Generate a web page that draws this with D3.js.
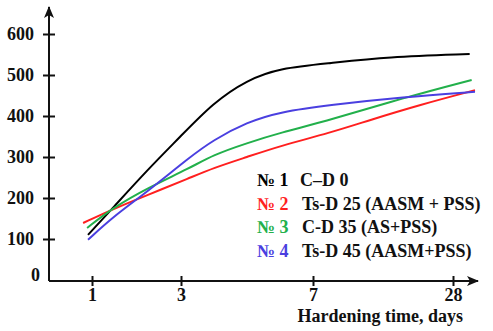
<!DOCTYPE html>
<html>
<head>
<meta charset="utf-8">
<script src="https://cdn.jsdelivr.net/npm/d3@7"></script>
<style>
  body { margin: 0; background: #fff; }
</style>
</head>
<body>
<svg></svg>
<script>
var w = 493;
var h = 331;
var serif = "'Liberation Serif', 'DejaVu Serif', 'Times New Roman', serif";

var svg = d3.select("svg")
            .attr("width", w)
            .attr("height", h)
            .style("font-family", serif)
            .style("font-weight", "bold");

// data (day, strength)
var yTicks = [0, 100, 200, 300, 400, 500, 600];
var xTicks = [1, 3, 7, 28];

var daysBlack = [0.91, 1.47, 2.24, 2.98, 3.97, 5.0, 6.0, 9.55, 18.1, 30.5];
var valsBlack = [110, 176, 268, 349, 432, 488, 517, 529, 544, 551];

var daysRed = [0.8, 1.47, 2.24, 3.27, 3.97, 5.0, 6.0, 9.55, 15.5, 23.0, 31.3];
var valsRed = [139, 173, 207, 249, 273, 300, 327, 359, 390, 427, 463];

var daysGreen = [0.89, 1.47, 2.24, 3.27, 3.97, 5.0, 6.0, 9.55, 20.5, 30.8];
var valsGreen = [127, 176, 224, 273, 305, 334, 359, 390, 444, 488];

var daysBlue = [0.91, 1.47, 2.24, 3.27, 3.97, 5.0, 6.0, 9.55, 20.5, 31.3];
var valsBlue = [98, 154, 215, 300, 341, 385, 410, 427, 446, 459];

var seriesNames = ["№ 1", "№ 2", "№ 3", "№ 4"];
var seriesLabels = ["C–D 0", "Ts-D 25 (AASM + PSS)", "C-D 35 (AS+PSS)", "Ts-D 45 (AASM+PSS)"];
var seriesColors = ["#000000", "#ff1f1f", "#22b04b", "#4a3fe0"];

var series = [
  { days: daysBlack, vals: valsBlack },
  { days: daysRed, vals: valsRed },
  { days: daysGreen, vals: valsGreen },
  { days: daysBlue, vals: valsBlue }
];

// x axis is not linear in days: each tick gets its own spot
var xScale = d3.scaleLinear()
               .domain([1, 3, 7, 28])
               .range([92, 181, 313, 453]);

var yScale = d3.scaleLinear()
               .domain([0, 600])
               .range([280, 34]);

var x0 = 49, y0 = 281;

// arrow heads
var defs = svg.append("defs");
defs.append("marker")
    .attr("id", "arrow")
    .attr("viewBox", "0 0 12 10")
    .attr("refX", 11)
    .attr("refY", 5)
    .attr("markerWidth", 12)
    .attr("markerHeight", 10)
    .attr("markerUnits", "userSpaceOnUse")
    .attr("orient", "auto")
  .append("path")
    .attr("d", "M0,0 L12,5 L0,10 L3,5 Z")
    .attr("fill", "#111");

// y axis
var yAxis = d3.axisLeft(yScale)
              .tickValues(yTicks.slice(1))
              .tickSizeOuter(0)
              .tickSizeInner(6)
              .tickPadding(9);
var gy = svg.append("g")
    .attr("transform", "translate(" + x0 + ",0)")
    .call(yAxis)
    .attr("font-family", null)
    .attr("font-size", 18);
gy.select(".domain").remove();
gy.selectAll(".tick line").attr("x1", 6).attr("x2", -6).attr("stroke", "#111").attr("stroke-width", 2);
gy.selectAll(".tick text").attr("fill", "#111");

// the "0" label sits a bit above the x axis
svg.append("text")
    .attr("x", 40)
    .attr("y", yScale(0) - 5)
    .attr("dy", "0.32em")
    .attr("text-anchor", "end")
    .attr("font-size", 18)
    .attr("fill", "#111")
    .text(yTicks[0]);

svg.append("line")
    .attr("x1", x0).attr("y1", y0)
    .attr("x2", x0).attr("y2", 7)
    .attr("stroke", "#111")
    .attr("stroke-width", 2)
    .attr("marker-end", "url(#arrow)");

// x axis
var xAxis = d3.axisBottom(xScale)
              .tickValues(xTicks)
              .tickFormat(d3.format("d"))
              .tickSizeOuter(0)
              .tickSizeInner(5)
              .tickPadding(2);
var gx = svg.append("g")
    .attr("transform", "translate(0," + y0 + ")")
    .call(xAxis)
    .attr("font-family", null)
    .attr("font-size", 18);
gx.select(".domain").remove();
gx.selectAll(".tick line").attr("y1", -5).attr("y2", 5).attr("stroke", "#111").attr("stroke-width", 2);
gx.selectAll(".tick text").attr("fill", "#111");

svg.append("line")
    .attr("x1", x0).attr("y1", y0)
    .attr("x2", 478).attr("y2", y0)
    .attr("stroke", "#111")
    .attr("stroke-width", 2)
    .attr("marker-end", "url(#arrow)");

svg.append("text")
    .attr("x", 463)
    .attr("y", 322)
    .attr("text-anchor", "end")
    .attr("font-size", 18)
    .attr("fill", "#111")
    .text("Hardening time, days");

// curves, smoothed through the read points
var line = d3.line()
    .x(function(d) { return xScale(d[0]); })
    .y(function(d) { return yScale(d[1]); })
    .curve(d3.curveBasis);

svg.selectAll(".curve")
  .data(series)
  .join("path")
    .attr("class", "curve")
    .attr("fill", "none")
    .attr("stroke", function(d, i) { return seriesColors[i]; })
    .attr("stroke-width", 2)
    .attr("d", function(d) {
      return line(d.days.map(function(day, k) { return [day, d.vals[k]]; }));
    });

// legend
var legend = svg.append("g").attr("font-size", 18);
legend.selectAll(".num")
  .data(seriesNames)
  .join("text")
    .attr("class", "num")
    .attr("x", 257)
    .attr("y", function(d, i) { return 186 + i * 23.5; })
    .attr("fill", function(d, i) { return seriesColors[i]; })
    .text(function(d) { return d; });

legend.selectAll(".lab")
  .data(seriesLabels)
  .join("text")
    .attr("class", "lab")
    .attr("x", function(d, i) { return i == 0 ? 300 : 302; })
    .attr("y", function(d, i) { return 186 + i * 23.5; })
    .attr("fill", "#111")
    .text(function(d) { return d; });
</script>
</body>
</html>
